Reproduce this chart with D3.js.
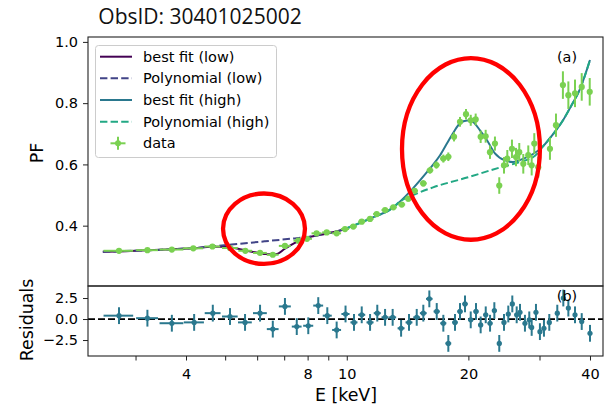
<!DOCTYPE html>
<html>
<head>
<meta charset="utf-8">
<script src="https://cdn.jsdelivr.net/npm/d3@7"></script>
<style>
  html, body { margin: 0; padding: 0; background: #fff; }
  svg { display: block; }
  text { font-family: "DejaVu Sans", sans-serif; }
</style>
</head>
<body>
<svg id="chart" width="614" height="408"></svg>
<script>
// Pulse fraction vs energy, ObsID 30401025002

// Measured pulse fraction (PF) per energy bin
const pfEnergy = [2.73, 3.21, 3.69, 4.17, 4.65, 5.14, 5.61, 6.10, 6.56, 7.03, 7.59, 7.97,
  8.42, 8.92, 9.44, 9.90, 10.38, 10.89, 11.42, 11.86, 12.44, 13.04, 13.68, 14.20, 14.72,
  15.47, 16.07, 16.67, 17.34, 17.84, 18.43, 19.07, 19.73, 20.27, 20.85, 21.45, 22.07,
  22.62, 23.27, 23.85, 24.50, 24.97, 25.64, 26.24, 26.73, 27.35, 28.14, 28.69, 29.12,
  29.79, 31.84, 32.95, 34.28, 35.36, 36.73, 38.16, 39.94];
const pfBinHalfWidth = [0.23, 0.20, 0.25, 0.24, 0.21, 0.23, 0.22, 0.24, 0.22, 0.24, 0.21, 0.23,
  0.24, 0.23, 0.24, 0.23, 0.21, 0.22, 0.23, 0.24, 0.25, 0.26, 0.27, 0.28, 0.29,
  0.30, 0.30, 0.30, 0.30, 0.30, 0.30, 0.30, 0.30, 0.30, 0.30, 0.30, 0.30,
  0.30, 0.30, 0.30, 0.30, 0.30, 0.30, 0.30, 0.30, 0.30, 0.30, 0.30, 0.30,
  0.30, 0.35, 0.35, 0.35, 0.35, 0.40, 0.40, 0.40];
const pfValue = [0.318, 0.320, 0.322, 0.326, 0.332, 0.327, 0.318, 0.311, 0.305, 0.334, 0.351, 0.357,
  0.375, 0.378, 0.375, 0.389, 0.397, 0.413, 0.422, 0.438, 0.451, 0.460, 0.469, 0.488, 0.514,
  0.538, 0.581, 0.598, 0.619, 0.625, 0.690, 0.739, 0.764, 0.744, 0.747, 0.690, 0.692,
  0.640, 0.668, 0.531, 0.597, 0.619, 0.651, 0.624, 0.640, 0.602, 0.630, 0.597, 0.668,
  0.591, 0.651, 0.728, 0.859, 0.826, 0.832, 0.853, 0.837];
const pfError = [0.004, 0.004, 0.004, 0.004, 0.004, 0.004, 0.004, 0.004, 0.005, 0.005, 0.005, 0.005,
  0.005, 0.005, 0.006, 0.006, 0.006, 0.006, 0.007, 0.007, 0.007, 0.008, 0.008, 0.009, 0.009,
  0.010, 0.011, 0.012, 0.013, 0.014, 0.015, 0.016, 0.017, 0.018, 0.019, 0.020, 0.021,
  0.022, 0.023, 0.027, 0.027, 0.028, 0.030, 0.030, 0.030, 0.032, 0.032, 0.033, 0.034,
  0.034, 0.036, 0.038, 0.045, 0.045, 0.045, 0.045, 0.045];

// Model curves
const lowFitEnergy = [2.49, 2.73, 3.20, 3.69, 4.16, 4.64, 5.00, 5.44, 5.93, 6.38, 6.68, 7.03, 7.44, 7.88, 8.59, 9.36, 9.90];
const lowFitPF = [0.315, 0.316, 0.320, 0.323, 0.326, 0.331, 0.331, 0.323, 0.313, 0.307, 0.307, 0.325, 0.344, 0.359, 0.370, 0.380, 0.389];
const lowPolyEnergy = [2.49, 3.26, 4.16, 4.72, 5.44, 6.28, 7.24, 7.88, 8.59, 9.36, 9.90];
const lowPolyPF = [0.315, 0.320, 0.327, 0.333, 0.341, 0.349, 0.357, 0.362, 0.370, 0.380, 0.389];
const highFitEnergy = [9.90, 11.42, 13.01, 14.34, 15.18, 16.07, 17.02, 17.71, 18.32, 19.06, 19.85, 20.54,
  21.37, 22.24, 23.27, 24.64, 25.80, 27.31, 28.91, 30.60, 32.38, 34.30, 35.90, 37.78, 40.0];
const highFitPF = [0.389, 0.423, 0.459, 0.511, 0.548, 0.587, 0.630, 0.669, 0.702, 0.734, 0.743, 0.738,
  0.711, 0.679, 0.636, 0.613, 0.608, 0.618, 0.634, 0.659, 0.698, 0.744, 0.790, 0.846, 0.941];
const highPolyEnergy = [9.90, 11.42, 13.01, 13.54, 14.50, 16.35, 19.85, 23.94, 26.84, 29.24, 30.60, 32.38, 34.30, 35.90, 37.78, 40.0];
const highPolyPF = [0.389, 0.423, 0.459, 0.479, 0.498, 0.525, 0.557, 0.590, 0.608, 0.628, 0.659, 0.698, 0.744, 0.790, 0.846, 0.941];

// Residuals (data - model) / sigma
const resEnergy = [2.73, 3.21, 3.69, 4.19, 4.66, 5.14, 5.60, 6.10, 6.56, 7.03, 7.52, 8.03, 8.50, 8.95,
  9.44, 9.93, 10.42, 10.89, 11.42, 11.90, 12.44, 12.99, 13.63, 14.26, 14.90, 15.47, 16.01, 16.70,
  17.34, 17.84, 18.53, 19.07, 19.62, 20.27, 20.89, 21.45, 22.08, 22.63, 23.19, 23.85, 24.50, 25.11,
  25.69, 26.34, 26.84, 27.61, 28.30, 28.69, 29.40, 30.07, 30.77, 31.72, 33.20, 34.36, 35.36, 36.73,
  38.16, 40.0];
const resBinHalfWidth = [0.23, 0.20, 0.25, 0.24, 0.21, 0.23, 0.22, 0.24, 0.22, 0.24, 0.21, 0.23, 0.24, 0.23,
  0.24, 0.23, 0.21, 0.22, 0.23, 0.24, 0.25, 0.26, 0.27, 0.28, 0.29, 0.30, 0.30, 0.30,
  0.30, 0.30, 0.30, 0.30, 0.30, 0.30, 0.30, 0.30, 0.30, 0.30, 0.30, 0.30, 0.30, 0.30,
  0.30, 0.30, 0.30, 0.30, 0.30, 0.30, 0.30, 0.30, 0.35, 0.35, 0.35, 0.35, 0.35, 0.40,
  0.40, 0.40];
const resValue = [0.4, 0.1, -0.5, -0.4, 0.7, 0.3, -0.4, 0.7, -1.2, 1.5, -0.9, -0.8, 1.6, 0.4,
  -1.3, 0.6, -0.4, 0.5, -0.4, 0.7, 0.2, 0.2, -1.1, -0.4, 0.2, 0.7, 2.4, 0.9,
  -0.5, -2.9, -0.4, 0.9, 1.8, -0.1, 0.9, -0.7, 0.5, -0.5, 1.0, -2.9, -0.4, 0.6,
  1.8, 0.5, 0.8, -0.5, -0.1, -1.0, 0.8, -1.5, -1.1, -0.4, 0.7, 2.5, 1.3, 0.5,
  -0.3, -1.7];

// Axis ticks
const energyTicks = [3, 4, 5, 6, 7, 8, 9, 10, 20, 30, 40];
const energyLabels = [4, 8, 10, 20, 40];
const pfTicks = [0.4, 0.6, 0.8, 1.0];
const resTicks = [-2.5, 0.0, 2.5];

// Highlighted regions (energy range x PF range)
const highlightELo = [4.94, 13.70];
const highlightEHi = [7.88, 30.07];
const highlightPFLo = [0.275, 0.354];
const highlightPFHi = [0.505, 0.947];

const legendLabels = ["best fit (low)", "Polynomial (low)", "best fit (high)", "Polynomial (high)", "data"];

const C = {
  lowFit: "#440154",
  lowPoly: "#414487",
  highFit: "#2a788e",
  highPoly: "#22a884",
  data: "#7ad151",
  resid: "#2a788e",
  frame: "#222222"
};

const svg = d3.select("#chart");
const left = 88, right = 603;
const topY0 = 37, topY1 = 286, botY1 = 356;

const x = d3.scaleLog().domain([2.288, 43.08]).range([left, right]);
const y = d3.scaleLinear().domain([0.203, 1.016]).range([topY1, topY0]);
const yr = d3.scaleLinear().domain([-4.4, 3.93]).range([botY1, topY1]);

// Clip paths
const defs = svg.append("defs");
defs.append("clipPath").attr("id", "clipTop").append("rect")
  .attr("x", left).attr("y", topY0).attr("width", right - left).attr("height", topY1 - topY0);
defs.append("clipPath").attr("id", "clipBot").append("rect")
  .attr("x", left).attr("y", topY1).attr("width", right - left).attr("height", botY1 - topY1);

// Title
svg.append("text")
  .attr("x", 200).attr("y", 23.5)
  .attr("text-anchor", "middle")
  .style("font-family", "'Open Sans', 'Noto Sans', sans-serif")
  .style("font-size", "21px")
  .attr("fill", "#111")
  .text("ObsID: 30401025002");

// ---------- Upper panel ----------
const upper = svg.append("g").attr("clip-path", "url(#clipTop)");
const line = d3.line().x(d => x(d[0])).y(d => y(d[1])).curve(d3.curveMonotoneX);
const zip = (a, b) => a.map((v, i) => [v, b[i]]);

upper.append("path").attr("d", line(zip(lowFitEnergy, lowFitPF)))
  .attr("fill", "none").attr("stroke", C.lowFit).attr("stroke-width", 2);
upper.append("path").attr("d", line(zip(lowPolyEnergy, lowPolyPF)))
  .attr("fill", "none").attr("stroke", C.lowPoly).attr("stroke-width", 2)
  .attr("stroke-dasharray", "7.4,3.2");
upper.append("path").attr("d", line(zip(highFitEnergy, highFitPF)))
  .attr("fill", "none").attr("stroke", C.highFit).attr("stroke-width", 2);
upper.append("path").attr("d", line(zip(highPolyEnergy, highPolyPF)))
  .attr("fill", "none").attr("stroke", C.highPoly).attr("stroke-width", 2)
  .attr("stroke-dasharray", "7.4,3.2");

const pts = pfEnergy.map((e, i) => ({ e, w: pfBinHalfWidth[i], v: pfValue[i], s: pfError[i] }));
const pg = upper.append("g");
pg.selectAll("line.ex").data(pts).join("line")
  .attr("x1", d => x(d.e - d.w)).attr("x2", d => x(d.e + d.w))
  .attr("y1", d => y(d.v)).attr("y2", d => y(d.v))
  .attr("stroke", C.data).attr("stroke-width", 2);
pg.selectAll("line.ey").data(pts).join("line")
  .attr("x1", d => x(d.e)).attr("x2", d => x(d.e))
  .attr("y1", d => y(d.v - d.s)).attr("y2", d => y(d.v + d.s))
  .attr("stroke", C.data).attr("stroke-width", 2);
pg.selectAll("circle").data(pts).join("circle")
  .attr("cx", d => x(d.e)).attr("cy", d => y(d.v)).attr("r", 3.1)
  .attr("fill", C.data);

// ---------- Lower panel ----------
const lower = svg.append("g").attr("clip-path", "url(#clipBot)");
lower.append("line")
  .attr("x1", left).attr("x2", right).attr("y1", yr(0)).attr("y2", yr(0))
  .attr("stroke", "#000").attr("stroke-width", 1.8).attr("stroke-dasharray", "7,3");
const rpts = resEnergy.map((e, i) => ({ e, w: resBinHalfWidth[i], v: resValue[i] }));
lower.selectAll("line.ex").data(rpts).join("line")
  .attr("x1", d => x(d.e - d.w)).attr("x2", d => x(d.e + d.w))
  .attr("y1", d => yr(d.v)).attr("y2", d => yr(d.v))
  .attr("stroke", C.resid).attr("stroke-width", 2);
lower.selectAll("line.ey").data(rpts).join("line")
  .attr("x1", d => x(d.e)).attr("x2", d => x(d.e))
  .attr("y1", d => yr(d.v - 1)).attr("y2", d => yr(d.v + 1))
  .attr("stroke", C.resid).attr("stroke-width", 2);
lower.selectAll("circle").data(rpts).join("circle")
  .attr("cx", d => x(d.e)).attr("cy", d => yr(d.v)).attr("r", 2.6)
  .attr("fill", C.resid);

// ---------- Frames and axes ----------
function frame(y0, y1) {
  svg.append("rect").attr("x", left).attr("y", y0)
    .attr("width", right - left).attr("height", y1 - y0)
    .attr("fill", "none").attr("stroke", C.frame).attr("stroke-width", 1.1);
}
frame(topY0, topY1);
frame(topY1, botY1);

function styleAxis(g) {
  g.select(".domain").remove();
  g.selectAll(".tick line").attr("stroke", C.frame).attr("stroke-width", 1);
  g.selectAll(".tick text").attr("fill", "#000")
    .style("font-family", "'DejaVu Sans', sans-serif").style("font-size", "14.5px");
}

svg.append("g").attr("transform", `translate(${left},0)`)
  .call(d3.axisLeft(y).tickValues(pfTicks).tickFormat(d3.format(".1f")).tickSize(5).tickPadding(5))
  .call(styleAxis);
svg.append("g").attr("transform", `translate(${left},0)`)
  .call(d3.axisLeft(yr).tickValues(resTicks).tickFormat(d3.format(".1f")).tickSize(5).tickPadding(5))
  .call(styleAxis);
svg.append("g").attr("transform", `translate(0,${botY1})`)
  .call(d3.axisBottom(x).tickValues(energyTicks)
    .tickFormat(d => energyLabels.includes(d) ? d : "").tickSize(4.5).tickPadding(8.5))
  .call(styleAxis);

// Axis titles
svg.append("text").attr("x", 346).attr("y", 401).attr("text-anchor", "middle")
  .style("font-size", "17.4px").text("E [keV]");
svg.append("text").attr("transform", "translate(43,153) rotate(-90)")
  .attr("text-anchor", "middle").style("font-size", "17.4px").text("PF");
svg.append("text").attr("transform", "translate(33,320) rotate(-90)")
  .attr("text-anchor", "middle").style("font-size", "17.4px").text("Residuals");

// Panel tags
svg.append("text").attr("x", 567).attr("y", 57).attr("dy", "0.35em")
  .attr("text-anchor", "middle").style("font-size", "14.4px").text("(a)");
svg.append("text").attr("x", 567).attr("y", 296).attr("dy", "0.35em")
  .attr("text-anchor", "middle").style("font-size", "14.4px").text("(b)");

// ---------- Legend ----------
const lg = svg.append("g");
lg.append("rect").attr("x", 95.5).attr("y", 45.5).attr("width", 181).attr("height", 112)
  .attr("rx", 3).attr("fill", "#fff").attr("fill-opacity", 0.8)
  .attr("stroke", "#cccccc").attr("stroke-width", 1);
const legendStyle = [
  { c: C.lowFit, dash: null },
  { c: C.lowPoly, dash: "7.4,3.2" },
  { c: C.highFit, dash: null },
  { c: C.highPoly, dash: "7.4,3.2" },
  { c: C.data, dash: null, marker: true }
];
const rowY = d3.scalePoint().domain(d3.range(legendLabels.length)).range([56.7, 143.3]);
legendLabels.forEach((lab, i) => {
  const yy = rowY(i);
  const st = legendStyle[i];
  if (st.marker) {
    lg.append("line").attr("x1", 110.5).attr("x2", 125.5).attr("y1", yy).attr("y2", yy)
      .attr("stroke", st.c).attr("stroke-width", 2);
    lg.append("line").attr("x1", 118).attr("x2", 118).attr("y1", yy - 6.5).attr("y2", yy + 6.5)
      .attr("stroke", st.c).attr("stroke-width", 2);
    lg.append("circle").attr("cx", 118).attr("cy", yy).attr("r", 3).attr("fill", st.c);
  } else {
    lg.append("line").attr("x1", 100).attr("x2", 132).attr("y1", yy).attr("y2", yy)
      .attr("stroke", st.c).attr("stroke-width", 2)
      .attr("stroke-dasharray", st.dash);
  }
  lg.append("text").attr("x", 143).attr("y", yy).attr("dy", "0.35em")
    .style("font-size", "14.5px").text(lab);
});

// ---------- Highlight ellipses ----------
highlightELo.forEach((lo, i) => {
  const x0 = x(lo), x1 = x(highlightEHi[i]);
  const y0 = y(highlightPFHi[i]), y1 = y(highlightPFLo[i]);
  svg.append("ellipse")
    .attr("cx", (x0 + x1) / 2).attr("cy", (y0 + y1) / 2)
    .attr("rx", (x1 - x0) / 2).attr("ry", (y1 - y0) / 2)
    .attr("fill", "none").attr("stroke", "#ff0000").attr("stroke-width", 4.3);
});
</script>
</body>
</html>
